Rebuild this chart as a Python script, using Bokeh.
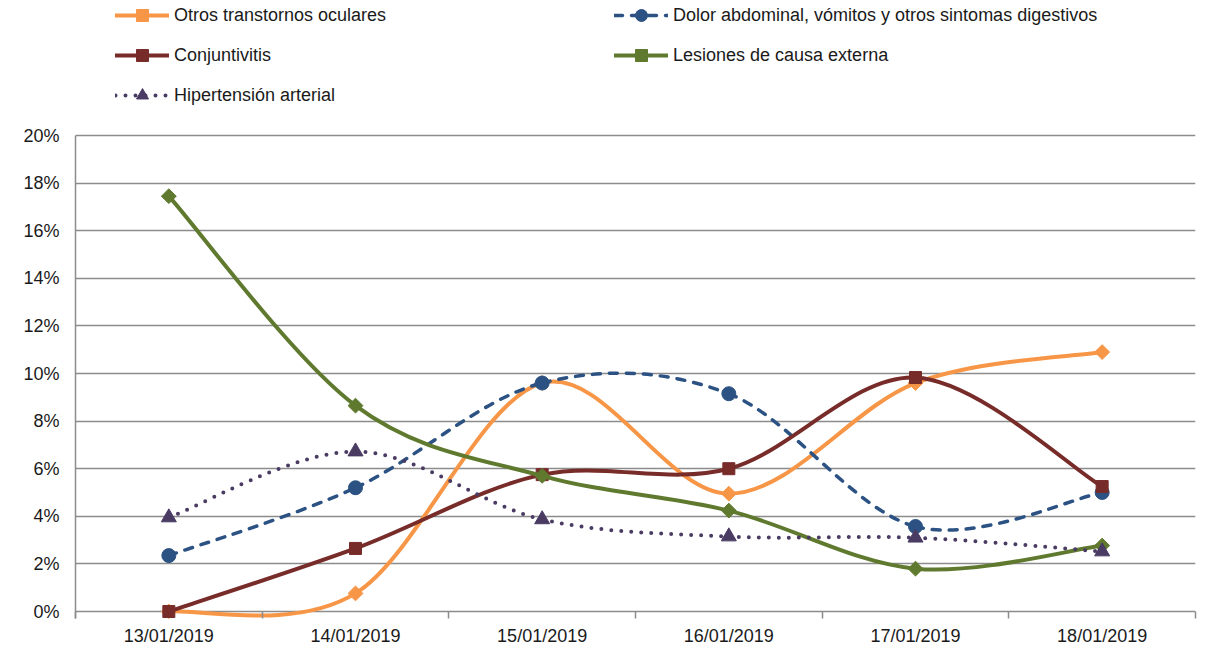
import math
from bokeh.plotting import figure
from bokeh.models import FixedTicker, PrintfTickFormatter, Legend, LegendItem, Range1d
from bokeh.embed import file_html
from bokeh.resources import INLINE

# ---- data ----
dates = ["13/01/2019", "14/01/2019", "15/01/2019", "16/01/2019", "17/01/2019", "18/01/2019"]
y_ticks = [0, 2, 4, 6, 8, 10, 12, 14, 16, 18, 20]

otros_oculares = [0.0, 0.76, 9.6, 4.95, 9.6, 10.9]
dolor_abdominal = [2.35, 5.2, 9.6, 9.15, 3.57, 5.0]
conjuntivitis = [0.0, 2.65, 5.75, 6.0, 9.83, 5.25]
lesiones = [17.45, 8.65, 5.7, 4.24, 1.8, 2.77]
hipertension = [3.95, 6.72, 3.87, 3.15, 3.1, 2.52]

names = ["Otros transtornos oculares",
         "Dolor abdominal, vómitos y otros sintomas digestivos",
         "Conjuntivitis",
         "Lesiones de causa externa",
         "Hipertensión arterial"]

FONT = "Liberation Sans"
FS = "18px"
GRID = "#8C8C8C"
TXT = "#1a1a1a"

# frame spans the canvas from the top edge to 7px below the 0% line (476px for 0..20%),
# so the legend can sit above the 20% line and curves can dip slightly under 0%
PX_PER_UNIT = 476 / 20.0
Y_TOP = 20 + 135 / PX_PER_UNIT
Y_BOTTOM = -7 / PX_PER_UNIT

p = figure(width=1206, height=649, output_backend="svg", toolbar_location=None,
           x_range=Range1d(-0.5, 5.5), y_range=Range1d(Y_BOTTOM, Y_TOP),
           min_border_left=75, min_border_right=11, min_border_top=0, min_border_bottom=31)
p.outline_line_color = None
p.background_fill_color = "white"
p.border_fill_color = "white"

# x axis: the 0% gridline acts as axis line, category-boundary ticks hang below it
xa = p.xaxis[0]
xa.ticker = FixedTicker(ticks=list(range(len(dates))),
                        minor_ticks=[i - 0.5 for i in range(len(dates) + 1)])
xa.major_label_overrides = {i: d for i, d in enumerate(dates)}
xa.major_tick_line_color = None
xa.major_tick_out = 0
xa.major_tick_in = 0
xa.minor_tick_out = 0
xa.minor_tick_in = 7
xa.minor_tick_line_color = GRID
xa.minor_tick_line_width = 1.5
xa.axis_line_color = None
xa.major_label_standoff = 7
xa.major_label_text_font = FONT
xa.major_label_text_font_size = FS
xa.major_label_text_color = TXT

# y axis
ya = p.yaxis[0]
ya.ticker = FixedTicker(ticks=y_ticks)
ya.bounds = (Y_BOTTOM, 20)
ya.formatter = PrintfTickFormatter(format="%d%%")
ya.major_tick_line_color = None
ya.minor_tick_line_color = None
ya.major_tick_out = 0
ya.axis_line_color = GRID
ya.axis_line_width = 1.5
ya.major_label_standoff = 16
ya.major_label_text_font = FONT
ya.major_label_text_font_size = FS
ya.major_label_text_color = TXT

p.xgrid.grid_line_color = None
p.ygrid.ticker = FixedTicker(ticks=y_ticks)
p.ygrid.grid_line_color = GRID
p.ygrid.grid_line_width = 1.5


def smooth_ctrl(xs, ys):
    """Bezier control points for a Catmull-Rom style smoothed line through the data."""
    n = len(xs)
    x0, y0, x1, y1, cx0, cy0, cx1, cy1 = [], [], [], [], [], [], [], []
    for i in range(n - 1):
        a = max(i - 1, 0)
        b = min(i + 2, n - 1)
        x0.append(xs[i]); y0.append(ys[i])
        x1.append(xs[i + 1]); y1.append(ys[i + 1])
        cx0.append(xs[i] + (xs[i + 1] - xs[a]) / 6.0)
        cy0.append(ys[i] + (ys[i + 1] - ys[a]) / 6.0)
        cx1.append(xs[i + 1] - (xs[b] - xs[i]) / 6.0)
        cy1.append(ys[i + 1] - (ys[b] - ys[i]) / 6.0)
    return dict(x0=x0, y0=y0, x1=x1, y1=y1, cx0=cx0, cy0=cy0, cx1=cx1, cy1=cy1)


xs = list(range(len(dates)))
# values, colour, dash, marker, size, angle, line width
series = [
    (otros_oculares, "#F79646", "solid", "square", 10.5, math.pi / 4, 4),
    (dolor_abdominal, "#2B5283", "8 9", "circle", 14, 0, 3.5),
    (conjuntivitis, "#772C2A", "solid", "square", 12, 0, 4),
    (lesiones, "#5F7A2F", "solid", "square", 10.5, math.pi / 4, 4),
    (hipertension, "#4A3B63", "0 10", "triangle", 15, 0, 4),
]

items = []
for (vals, color, dash, marker, size, ang, lw), name in zip(series, names):
    ctrl = smooth_ctrl(xs, vals)
    b = p.bezier(source=ctrl, x0="x0", y0="y0", x1="x1", y1="y1",
                 cx0="cx0", cy0="cy0", cx1="cx1", cy1="cy1",
                 line_color=color, line_width=lw, line_dash=dash, line_cap="round")
    s = p.scatter(xs, vals, marker=marker, size=size, angle=ang,
                  fill_color=color, line_color=color)
    items.append(LegendItem(label=name, renderers=[b, s]))

# column-major fill: left column Otros / Conjuntivitis / Hipertensión, right column the other two
legend = Legend(items=[items[0], items[2], items[4], items[1], items[3]],
                ncols=2, location=(40, 508), orientation="vertical",
                glyph_width=54, glyph_height=30, label_height=18, spacing=10,
                label_width=430, label_standoff=5, padding=0, margin=0,
                border_line_color=None, background_fill_alpha=0,
                label_text_font=FONT, label_text_font_size=FS,
                label_text_color=TXT)
p.add_layout(legend, "center")

open("out.html", "w").write(file_html(p, INLINE))
